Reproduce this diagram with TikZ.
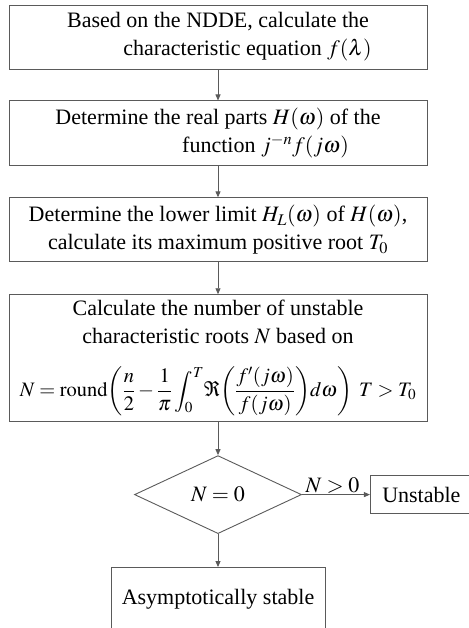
\documentclass[tikz,border=0pt]{standalone}
\usepackage{mathptmx}
\usepackage{fontspec}
\setmainfont{Liberation Serif}
\usetikzlibrary{arrows.meta,positioning,shapes.geometric}
\definecolor{edge}{HTML}{5A5A5A}
\tikzset{
  box/.style={draw=edge, line width=0.9pt, align=center, minimum width=418pt,
    inner sep=2pt, font=\fontsize{22}{28}\selectfont},
  test/.style={box, diamond, minimum width=167pt, minimum height=78pt, inner sep=0pt},
  flow/.style={-{Triangle[length=6pt,width=5pt]}, draw=edge, line width=0.9pt},
}
\newcommand{\Nroots}{N=\mathrm{round}\!\left(\frac{n}{2}-\frac{1}{\pi}\int_0^T
  \!\Re\!\left(\frac{f'(j\omega)}{f(j\omega)}\right)\!d\omega\right)\; T>T_0}

\begin{document}
\begin{tikzpicture}[node distance=31pt]
    \useasboundingbox (0,0) rectangle (468pt,-628pt);
    \node[box, minimum height=64pt] (eq) at (218pt,-37pt)
      {Based on the NDDE, calculate the\\\hspace*{59pt}characteristic equation $f(\lambda)$};
    \node[box, minimum height=65pt, below=of eq] (re)
      {Determine the real parts $H(\omega)$ of the\\\hspace*{95pt}function $j^{-n}f(j\omega)$};
    \node[box, minimum height=64pt, below=of re] (low)
      {Determine the lower limit $H_L(\omega)$ of $H(\omega)$,\\calculate its maximum positive root $T_0$};
    \node[box, minimum height=127pt, below=32pt of low] (num)
      {Calculate the number of unstable\\characteristic roots $N$ based on\\[22pt]%
       {\fontsize{20.5}{24}\selectfont$\displaystyle\Nroots$}};
    \node[test, below=33pt of num] (dec) {$N=0$};
    \node[box, minimum width=102pt, minimum height=38pt, right=68pt of dec] (uns) {Unstable};
    \node[box, minimum width=214pt, minimum height=63pt, below=33pt of dec] (stab) {Asymptotically stable};

    \draw[flow] (eq) -- (re);
    \draw[flow] (re) -- (low);
    \draw[flow] (low) -- (num);
    \draw[flow] (num) -- (dec);
    \draw[flow] (dec) -- node[above, pos=0.45, font=\fontsize{22}{26}\selectfont, inner sep=1pt]{$N>0$} (uns);
    \draw[flow] (dec) -- (stab);
  \end{tikzpicture}
\end{document}
